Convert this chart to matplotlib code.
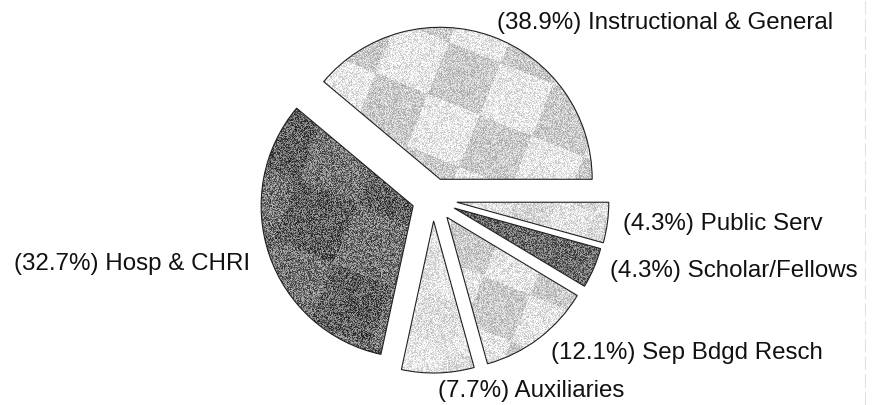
import numpy as np
import matplotlib
matplotlib.use("Agg")
import matplotlib.pyplot as plt

# ---- data ----
categories = ["Instructional & General", "Hosp & CHRI", "Auxiliaries",
              "Sep Bdgd Resch", "Scholar/Fellows", "Public Serv"]
shares = [38.9, 32.7, 7.7, 12.1, 4.3, 4.3]
label_texts = [f"({v:.1f}%) {c}" for v, c in zip(shares, categories)]

# ---- style ----
plt.rcParams['font.family'] = ['Liberation Sans', 'DejaVu Sans']
W, H = 875, 406
fig = plt.figure(figsize=(W / 100, H / 100), dpi=100)
fig.patch.set_facecolor('white')
ax = fig.add_axes([0, 0, 1, 1])

center = (433, 206)
radius = 152
explode = [21, 21, 22, 23, 23, 24]

wedges, _ = ax.pie(shares, explode=explode, center=center, radius=radius,
                   startangle=0, counterclock=True, frame=True,
                   wedgeprops=dict(edgecolor='#202020', linewidth=0.8,
                                   facecolor='none'))
ax.set_xlim(0, W)
ax.set_ylim(0, H)
ax.set_aspect('equal')
ax.axis('off')

# textures (light level, dark level, cell size, angle, speckle amplitude)
tex_styles = [
    (0.91, 0.79, 56, -22, 0.30),
    (0.46, 0.38, 64, -22, 0.55),
    (0.91, 0.87, 44, -22, 0.28),
    (0.90, 0.79, 50, -22, 0.30),
    (0.43, 0.41, 40, -22, 0.50),
    (0.89, 0.84, 40, -22, 0.28),
]
yy, xx = np.mgrid[0:H, 0:W].astype(float)
hsh = np.sin(xx * 12.9898 + yy * 78.233) * 43758.5453
frac = hsh - np.floor(hsh)
for w, (lt, dk, cell, ang, amp) in zip(wedges, tex_styles):
    a = np.deg2rad(ang)
    u = xx * np.cos(a) + yy * np.sin(a)
    v = -xx * np.sin(a) + yy * np.cos(a)
    chk = (np.floor(u / cell) + np.floor(v / cell)) % 2
    img = np.where(chk == 1, dk, lt) + amp * (frac - 0.5)
    img = np.clip(img, 0, 1)
    im = ax.imshow(img, cmap='gray', vmin=0, vmax=1, extent=(0, W, 0, H),
                   origin='lower', interpolation='nearest', zorder=1)
    im.set_clip_path(w)
    w.set_zorder(3)
ax.set_xlim(0, W)
ax.set_ylim(0, H)

# labels
label_pos = [
    (497, 406 - 23, 'left'),
    (250, 406 - 264, 'right'),
    (438, 406 - 391, 'left'),
    (551, 406 - 353, 'left'),
    (610, 406 - 271, 'left'),
    (623, 406 - 224, 'left'),
]
for txt, (x, y, ha) in zip(label_texts, label_pos):
    ax.text(x, y, txt, ha=ha, va='center', fontsize=17.4, color='#111111')

# faint scanner edge line on the right
ax.plot([865, 865], [0, H], color='#e2e2e2', lw=0.8, ls=(0, (12, 4)))

fig.savefig('out.png', dpi=100, facecolor='white')
